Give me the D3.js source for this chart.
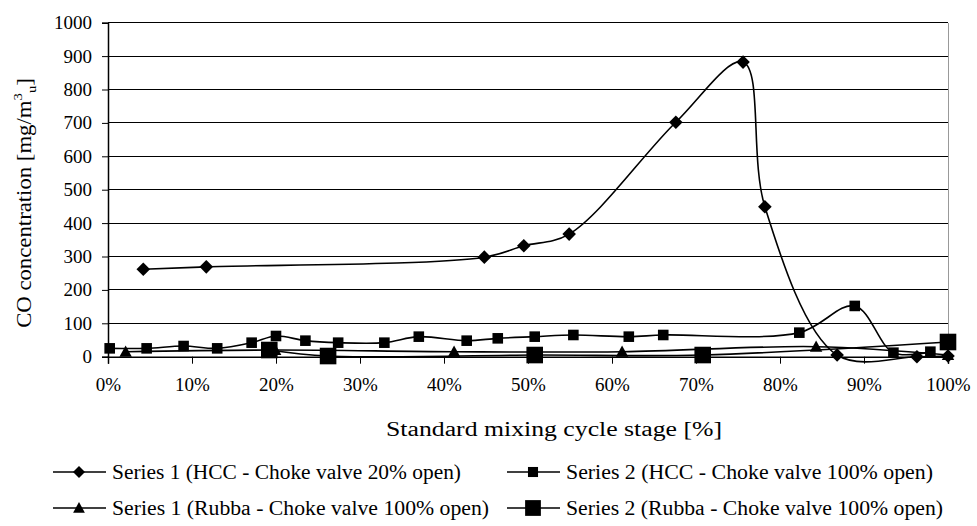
<!DOCTYPE html>
<html>
<head>
<meta charset="utf-8">
<title>CO concentration vs mixing cycle stage</title>
<style>
body{margin:0;background:#fff;}
svg text{font-family:"Liberation Serif","Times New Roman",Times,"DejaVu Serif",serif;fill:#000;}
</style>
</head>
<body>
<div id="chart"></div>
<script src="https://cdn.jsdelivr.net/npm/d3@7/dist/d3.min.js"></script>
<script>
// tick values
var xTicks = [0,10,20,30,40,50,60,70,80,90,100];
var yTicks = [0,100,200,300,400,500,600,700,800,900,1000];

// Series 1 (HCC - Choke valve 20% open), diamonds
var hccS1X = [4.2, 11.7, 44.8, 49.5, 54.9, 67.6, 75.6, 78.2, 86.8, 96.3, 100];
var hccS1Y = [262, 269, 298, 332, 367, 702, 882, 449, 5, 0, 2];

// Series 2 (HCC - Choke valve 100% open), small squares
var hccS2X = [0.2, 4.6, 9, 13, 17.1, 20, 23.5, 27.4, 32.9, 37, 42.7, 46.4, 50.8, 55.4, 62, 66.1, 82.3, 88.9, 93.5, 97.9];
var hccS2Y = [25, 25, 32, 25, 42, 62, 48, 42, 42, 60, 48, 55, 60, 65, 60, 65, 72, 152, 12, 15];

// Series 1 (Rubba - Choke valve 100% open), triangles
var rubS1X = [2.1, 19.9, 41.2, 61.2, 84.3, 100];
var rubS1Y = [15, 20, 15, 15, 30, 5];

// Series 2 (Rubba - Choke valve 100% open), big squares
var rubS2X = [19.2, 26.2, 50.8, 70.8, 100];
var rubS2Y = [20, 2, 5, 5, 44];

var seriesNames = [
  "Series 1 (HCC - Choke valve 20% open)",
  "Series 2 (HCC - Choke valve 100% open)",
  "Series 1 (Rubba - Choke valve 100% open)",
  "Series 2 (Rubba - Choke valve 100% open)"
];

var FONT = '"Liberation Serif","Times New Roman",Times,"DejaVu Serif",serif';
var W = 977, H = 526;
var margin = {top: 22.7, right: 29, bottom: 169.3, left: 108};
var width = W - margin.left - margin.right,
    height = H - margin.top - margin.bottom;

var svg = d3.select("#chart").append("svg")
  .attr("width", W)
  .attr("height", H)
  .attr("font-family", FONT);

var g = svg.append("g")
  .attr("transform", "translate(" + margin.left + "," + margin.top + ")");

var x = d3.scaleLinear().domain([0,100]).range([0,width]);
var y = d3.scaleLinear().domain([0,1000]).range([height,0]);

function zip(xs, ys){ return xs.map(function(v,i){ return [v, ys[i]]; }); }

var series = [
  {name: seriesNames[0], pts: zip(hccS1X,hccS1Y), mark: "diamond", size: 6.8},
  {name: seriesNames[1], pts: zip(hccS2X,hccS2Y), mark: "square", size: 5.3},
  {name: seriesNames[2], pts: zip(rubS1X,rubS1Y), mark: "triangle", size: 6.2},
  {name: seriesNames[3], pts: zip(rubS2X,rubS2Y), mark: "square", size: 8.3}
];

function markPath(type, r){
  if(type == "diamond") return "M0,"+(-r)+"L"+r+",0L0,"+r+"L"+(-r)+",0Z";
  if(type == "square") return "M"+(-r)+","+(-r)+"H"+r+"V"+r+"H"+(-r)+"Z";
  // triangle
  return "M0,"+(-r)+"L"+r+","+(r*0.8)+"L"+(-r)+","+(r*0.8)+"Z";
}

// gridlines
g.append("g").selectAll("line")
  .data(yTicks.filter(function(d){ return d > 0; }))
  .enter().append("line")
  .attr("x1", 0).attr("x2", width)
  .attr("y1", function(d){ return y(d); })
  .attr("y2", function(d){ return y(d); })
  .attr("stroke", "#000")
  .attr("stroke-width", 1)
  .attr("shape-rendering", "crispEdges");

// right border
g.append("line")
  .attr("x1", width).attr("x2", width)
  .attr("y1", 0).attr("y2", height)
  .attr("stroke", "#999")
  .attr("shape-rendering", "crispEdges");

// axes
var yAxis = d3.axisLeft(y).tickValues(yTicks).tickSize(6).tickPadding(10)
  .tickFormat(d3.format("d"));
var xAxis = d3.axisBottom(x).tickValues(xTicks).tickSize(7).tickPadding(14)
  .tickFormat(function(d){ return d + "%"; });

var gy = g.append("g").call(yAxis);
var gx = g.append("g").attr("transform", "translate(0," + height + ")").call(xAxis);

[gx, gy].forEach(function(a){
  a.attr("font-family", FONT).attr("font-size", 19);
  a.selectAll(".domain").attr("stroke", "#000").attr("stroke-width", 1.5);
  a.selectAll(".tick line").attr("stroke", "#000");
  a.selectAll("text").attr("fill", "#000");
});

// lines (smoothed like the spreadsheet original)
var line = d3.line()
  .x(function(d){ return x(d[0]); })
  .y(function(d){ return y(d[1]); })
  .curve(d3.curveCatmullRom.alpha(0.5));

series.forEach(function(s){
  g.append("path")
    .datum(s.pts)
    .attr("d", line)
    .attr("fill", "none")
    .attr("stroke", "#000")
    .attr("stroke-width", 1.6);
});

series.forEach(function(s){
  g.append("g").selectAll("path")
    .data(s.pts)
    .enter().append("path")
    .attr("transform", function(d){ return "translate(" + x(d[0]) + "," + y(d[1]) + ")"; })
    .attr("d", markPath(s.mark, s.size))
    .attr("fill", "#000");
});

// axis titles
svg.append("text")
  .attr("x", 554)
  .attr("y", 436)
  .attr("text-anchor", "middle")
  .attr("font-size", 20)
  .attr("textLength", 336)
  .attr("lengthAdjust", "spacingAndGlyphs")
  .text("Standard mixing cycle stage [%]");

var ytg = svg.append("g")
  .attr("transform", "translate(31,203) rotate(-90)");
var yt = ytg.append("text")
  .attr("text-anchor", "middle")
  .attr("font-size", 20);
yt.append("tspan").text("CO concentration [mg/m");
yt.append("tspan").attr("dy", -9).attr("font-size", 13).text("3");
yt.append("tspan").attr("dy", 14).attr("font-size", 13).text("u");
yt.append("tspan").attr("dy", -5).text("]");
// stretch along the reading direction to the original title length
var ytw = yt.node().getBBox().width;
yt.attr("transform", "scale(" + (250 / ytw) + ",1)");

// legend
var legPos = [[53, 472], [507, 472], [53, 508], [507, 508]];
var legLen = [349, 367, 377, 377];
series.forEach(function(s, i){
  var lg = svg.append("g").attr("transform", "translate(" + legPos[i][0] + "," + legPos[i][1] + ")");
  lg.append("line")
    .attr("x1", 0).attr("x2", 53)
    .attr("stroke", "#000").attr("stroke-width", 1.6);
  lg.append("path")
    .attr("transform", "translate(26,0)")
    .attr("d", markPath(s.mark, s.mark == "diamond" ? 6 : s.size * 0.95))
    .attr("fill", "#000");
  lg.append("text")
    .attr("x", 59)
    .attr("dy", "0.35em")
    .attr("font-size", 20)
    .attr("textLength", legLen[i])
    .attr("lengthAdjust", "spacingAndGlyphs")
    .text(s.name);
});
</script>
</body>
</html>
